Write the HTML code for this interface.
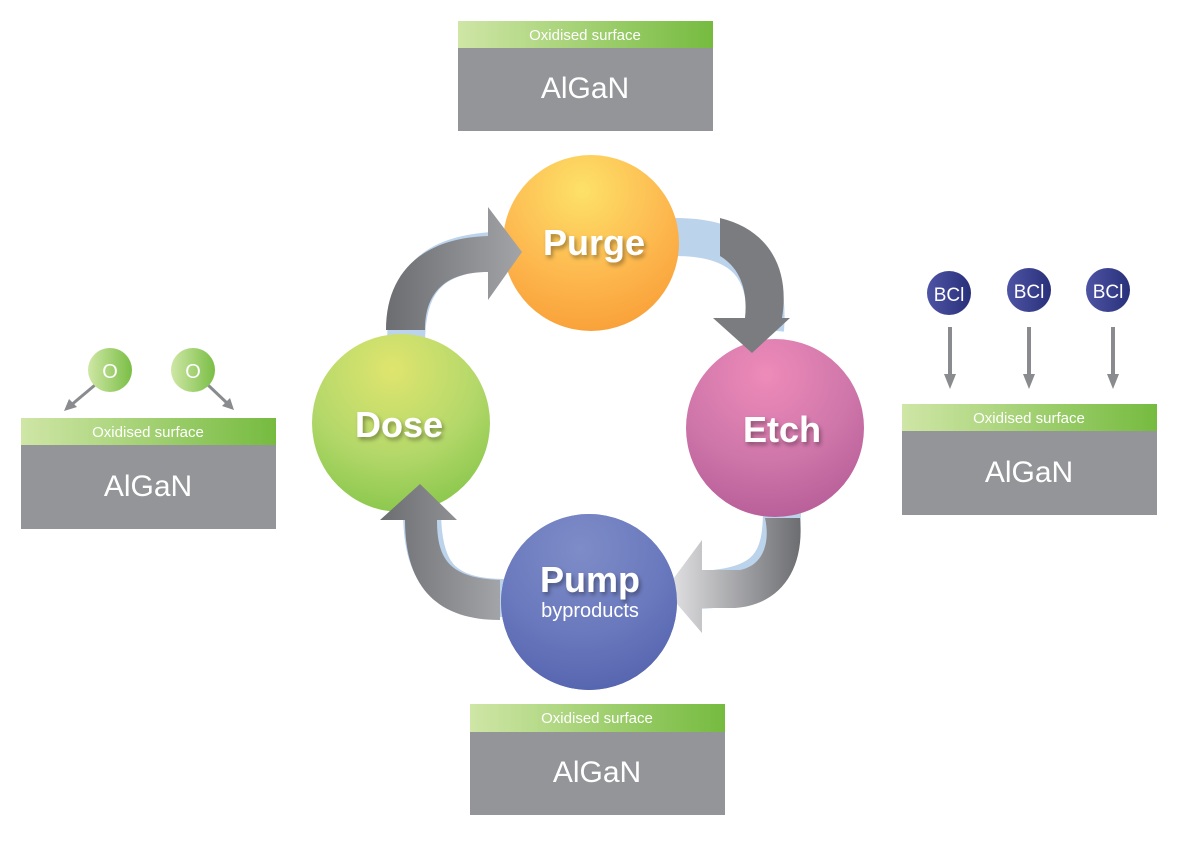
<!DOCTYPE html>
<html><head><meta charset="utf-8"><style>
body{margin:0;width:1200px;height:862px;background:#fff;overflow:hidden}
svg{display:block}
text{font-family:"Liberation Sans",sans-serif}
</style></head><body>
<svg width="1200" height="862" viewBox="0 0 1200 862" xmlns="http://www.w3.org/2000/svg">
<defs>
<linearGradient id="gb" x1="0" x2="1"><stop offset="0" stop-color="#cfe6a6"/><stop offset="1" stop-color="#76bb40"/></linearGradient>
<radialGradient id="gPurge" cx="0.45" cy="0.2" r="0.8"><stop offset="0" stop-color="#fde169"/><stop offset="0.6" stop-color="#fdb94f"/><stop offset="1" stop-color="#f9a23a"/></radialGradient>
<radialGradient id="gEtch" cx="0.45" cy="0.2" r="0.8"><stop offset="0" stop-color="#ee8bb9"/><stop offset="0.6" stop-color="#cf76aa"/><stop offset="1" stop-color="#b9609a"/></radialGradient>
<radialGradient id="gDose" cx="0.45" cy="0.2" r="0.8"><stop offset="0" stop-color="#dfe56e"/><stop offset="0.6" stop-color="#b4d86a"/><stop offset="1" stop-color="#8cc84e"/></radialGradient>
<radialGradient id="gPump" cx="0.45" cy="0.2" r="0.8"><stop offset="0" stop-color="#7e8cc8"/><stop offset="0.6" stop-color="#6a79bd"/><stop offset="1" stop-color="#5766b0"/></radialGradient>
<linearGradient id="gO" x1="0" x2="1"><stop offset="0" stop-color="#cfe7a5"/><stop offset="1" stop-color="#7abe46"/></linearGradient>
<linearGradient id="gB" x1="0" x2="1"><stop offset="0" stop-color="#4e54a4"/><stop offset="1" stop-color="#29307a"/></linearGradient>
<linearGradient id="gg" x1="0" x2="1"><stop offset="0" stop-color="#6c6d71"/><stop offset="1" stop-color="#a3a4a8"/></linearGradient>
<linearGradient id="gg2" x1="1" x2="0"><stop offset="0" stop-color="#6c6d71"/><stop offset="1" stop-color="#e6e6e8"/></linearGradient>
<filter id="sh"><feDropShadow dx="2" dy="3" stdDeviation="2" flood-color="#000" flood-opacity="0.35"/></filter>
</defs>

<g>
<rect x="458" y="21" width="255" height="27" fill="url(#gb)"/><rect x="458" y="48" width="255" height="83" fill="#939598"/>
<text x="585" y="40" font-size="15" fill="#fff" text-anchor="middle">Oxidised surface</text>
<text x="585" y="98" font-size="30" fill="#fff" text-anchor="middle">AlGaN</text>

<rect x="21" y="418" width="255" height="27" fill="url(#gb)"/><rect x="21" y="445" width="255" height="84" fill="#939598"/>
<text x="148" y="437" font-size="15" fill="#fff" text-anchor="middle">Oxidised surface</text>
<text x="148" y="496" font-size="30" fill="#fff" text-anchor="middle">AlGaN</text>

<rect x="902" y="404" width="255" height="27" fill="url(#gb)"/><rect x="902" y="431" width="255" height="84" fill="#939598"/>
<text x="1029" y="423" font-size="15" fill="#fff" text-anchor="middle">Oxidised surface</text>
<text x="1029" y="482" font-size="30" fill="#fff" text-anchor="middle">AlGaN</text>

<rect x="470" y="704" width="255" height="28" fill="url(#gb)"/><rect x="470" y="732" width="255" height="83" fill="#939598"/>
<text x="597" y="723" font-size="15" fill="#fff" text-anchor="middle">Oxidised surface</text>
<text x="597" y="782" font-size="30" fill="#fff" text-anchor="middle">AlGaN</text>
</g>

<line x1="95" y1="385" x2="70" y2="406" stroke="#8a8b8e" stroke-width="3"/><polygon points="64,411 69,399 77,407" fill="#8a8b8e"/>
<line x1="208" y1="385" x2="228" y2="404" stroke="#8a8b8e" stroke-width="3"/><polygon points="234,410 222,406 230,398" fill="#8a8b8e"/>
<circle cx="110" cy="370" r="22" fill="url(#gO)"/><text x="110" y="378" font-size="20" fill="#fff" text-anchor="middle">O</text>
<circle cx="193" cy="370" r="22" fill="url(#gO)"/><text x="193" y="378" font-size="20" fill="#fff" text-anchor="middle">O</text>

<g fill="#8a8b8e">
<rect x="948" y="327" width="4" height="48"/><polygon points="944,374 956,374 950,389"/>
<rect x="1027" y="327" width="4" height="48"/><polygon points="1023,374 1035,374 1029,389"/>
<rect x="1111" y="327" width="4" height="48"/><polygon points="1107,374 1119,374 1113,389"/>
</g>
<circle cx="949" cy="293" r="22" fill="url(#gB)"/><text x="949" y="301" font-size="19" fill="#fff" text-anchor="middle">BCl</text>
<circle cx="1029" cy="290" r="22" fill="url(#gB)"/><text x="1029" y="298" font-size="19" fill="#fff" text-anchor="middle">BCl</text>
<circle cx="1108" cy="290" r="22" fill="url(#gB)"/><text x="1108" y="298" font-size="19" fill="#fff" text-anchor="middle">BCl</text>

<g fill="none" stroke="#bcd3ec" stroke-width="38">
<path d="M406,345 C406,270 440,252 510,250"/>
<path d="M675,237 C745,237 770,270 765,330"/>
<path d="M782,510 C782,560 770,590 690,590"/>
<path d="M505,598 C440,598 422,570 422,510"/>
</g>

<circle cx="591" cy="243" r="88" fill="url(#gPurge)"/>
<circle cx="775" cy="428" r="89" fill="url(#gEtch)"/>
<circle cx="401" cy="423" r="89" fill="url(#gDose)"/>
<circle cx="589" cy="602" r="88" fill="url(#gPump)"/>

<path d="M386,330 C386,270 425,238 488,236 L488,207 L522,252 L488,300 L488,272 C448,272 425,290 425,330 Z" fill="url(#gg)"/>
<path d="M720,218 C770,230 790,270 782,318 L790,318 L752,353 L713,318 L745,318 C748,290 740,268 720,256 Z" fill="#7b7c80"/>
<path d="M800,518 C805,570 780,605 735,608 L702,608 L702,633 L665,590 L702,540 L702,570 L740,570 C765,565 770,540 765,518 Z" fill="url(#gg2)"/>
<path d="M500,620 C440,620 405,590 405,520 L380,520 L420,484 L457,520 L437,520 C437,560 450,578 500,580 Z" fill="url(#gg)"/>
<circle cx="589" cy="602" r="88" fill="url(#gPump)"/>

<g font-weight="bold" fill="#fff" text-anchor="middle" filter="url(#sh)">
<text x="594" y="255" font-size="36">Purge</text>
<text x="782" y="442" font-size="36">Etch</text>
<text x="399" y="437" font-size="36">Dose</text>
<text x="590" y="592" font-size="36">Pump</text>
</g>
<text x="590" y="617" font-size="20" fill="#fff" text-anchor="middle">byproducts</text>
</svg>
</body></html>
